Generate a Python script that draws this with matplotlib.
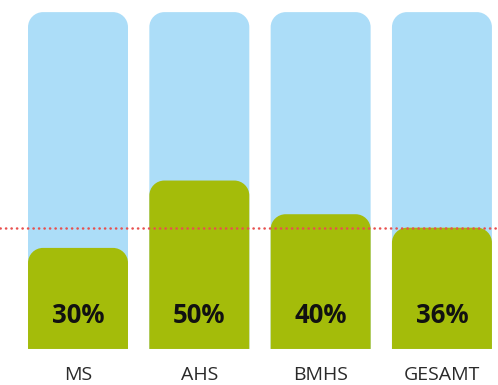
import matplotlib
matplotlib.use("Agg")
import matplotlib.pyplot as plt
from matplotlib.patches import PathPatch
from matplotlib.path import Path

categories = ["MS", "AHS", "BMHS", "GESAMT"]
values = [30, 50, 40, 36]
labels = ["30%", "50%", "40%", "36%"]
background = [100, 100, 100, 100]
reference = 36

BLUE = "#ACDDF8"
GREEN = "#A4BC0A"
RED = "#E8504F"

W, H, DPI = 4.98, 3.85, 100
fig = plt.figure(figsize=(W, H), dpi=DPI)
ax = fig.add_axes([0, 0, 1, 1])
x0, x1, y0, y1 = -0.643, 3.462, -10.7, 103.6
ax.set_xlim(x0, x1)
ax.set_ylim(y0, y1)
ax.axis("off")

bar_w = 0.824
px_x = W * DPI / (x1 - x0)
px_y = H * DPI / (y1 - y0)
r_px = 15
rx = r_px / px_x
ry = r_px / px_y
k = 0.5523

def rounded_bar(x, h, color, z):
    l, rr = x - bar_w / 2, x + bar_w / 2
    verts = [
        (l, 0), (l, h - ry),
        (l, h - ry + k * ry), (l + rx - k * rx, h), (l + rx, h),
        (rr - rx, h),
        (rr - rx + k * rx, h), (rr, h - ry + k * ry), (rr, h - ry),
        (rr, 0), (l, 0),
    ]
    codes = [Path.MOVETO, Path.LINETO,
             Path.CURVE4, Path.CURVE4, Path.CURVE4,
             Path.LINETO,
             Path.CURVE4, Path.CURVE4, Path.CURVE4,
             Path.LINETO, Path.CLOSEPOLY]
    ax.add_patch(PathPatch(Path(verts, codes), fc=color, ec="none", zorder=z))

for i, (b, v) in enumerate(zip(background, values)):
    rounded_bar(i, b, BLUE, 1)
    rounded_bar(i, v, GREEN, 2)
    ax.text(i, 10.0, labels[i], ha="center", va="center", fontsize=18.5,
            fontweight="bold", color="#111111", family="Open Sans", zorder=4)
    ax.text(i, -9.2, categories[i], ha="center", va="baseline", fontsize=14,
            color="#2a2a2a", family="Open Sans", zorder=4)

ax.axhline(reference, color=RED, lw=1.8, ls=(0, (0.1, 2.1)),
           dash_capstyle="round", zorder=3)

fig.savefig("out.png", dpi=DPI)
